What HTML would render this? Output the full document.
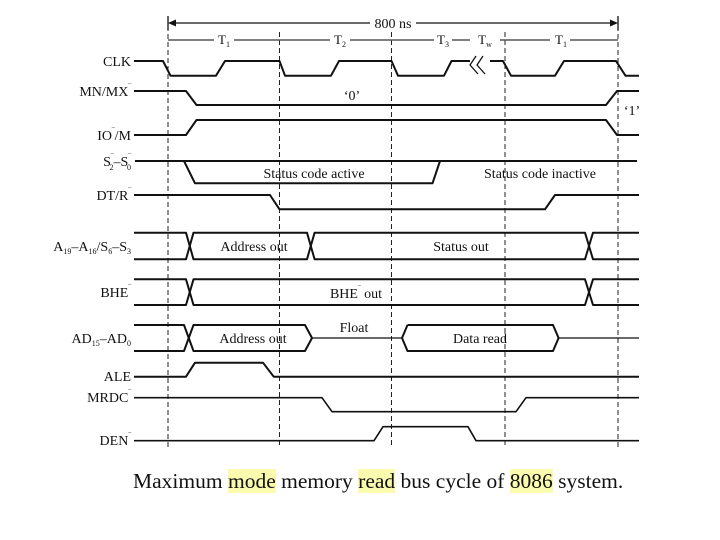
<!DOCTYPE html>
<html><head><meta charset="utf-8"><style>
html,body{margin:0;padding:0;background:#fff;}
svg{display:block}
text{font-family:"Liberation Serif",serif;fill:#111;}
#cap{position:absolute;left:133px;top:468px;font-family:"Liberation Serif",serif;font-size:21.5px;color:#111;white-space:nowrap;line-height:26px;}
#cap span{background:#fbfbb0;}
</style></head><body>
<svg width="720" height="540" viewBox="0 0 720 540" xmlns="http://www.w3.org/2000/svg">
<g stroke="#222" stroke-width="1" stroke-dasharray="5,3" fill="none">
<line x1="168" y1="18" x2="168" y2="447"/>
<line x1="279.5" y1="32" x2="279.5" y2="447"/>
<line x1="391.5" y1="32" x2="391.5" y2="447"/>
<line x1="505" y1="32" x2="505" y2="447"/>
<line x1="618" y1="18" x2="618" y2="447"/>
</g>
<g stroke="#111" stroke-width="1.3" fill="none">
<line x1="168" y1="16" x2="168" y2="30"/><line x1="618" y1="16" x2="618" y2="30"/>
<line x1="170" y1="23" x2="370" y2="23"/><line x1="416" y1="23" x2="616" y2="23"/>
</g>
<path d="M168 23 l8 -3.5 v7z M618 23 l-8 -3.5 v7z" fill="#111"/>
<text x="393" y="28" font-size="14" text-anchor="middle">800 ns</text>
<g stroke="#555" stroke-width="1.5">
<line x1="168" y1="40" x2="214" y2="40"/><line x1="234" y1="40" x2="330" y2="40"/><line x1="350" y1="40" x2="434" y2="40"/>
<line x1="452" y1="40" x2="470" y2="40"/><line x1="500" y1="40" x2="550" y2="40"/><line x1="570" y1="40" x2="618" y2="40"/>
</g>
<g font-size="13" text-anchor="middle">
<text x="224" y="44">T<tspan font-size="8" dy="3">1</tspan></text>
<text x="340" y="44">T<tspan font-size="8" dy="3">2</tspan></text>
<text x="443" y="44">T<tspan font-size="8" dy="3">3</tspan></text>
<text x="485" y="44">T<tspan font-size="8" dy="3">w</tspan></text>
<text x="561" y="44">T<tspan font-size="8" dy="3">1</tspan></text>
</g>
<g stroke="#111" stroke-width="2" fill="none" stroke-linejoin="round">
<polyline points="134,61 163,61 170.5,75.7 216,75.7 225,61 279.5,61 285,75.7 331,75.7 339,61 391.5,61 398,75.7 444,75.7 451.5,61 470,61"/>
<polyline points="490,61 503,61 511,75.7 555,75.7 564,61 616,61 625.5,75.7 639,75.7"/>
<polyline stroke-width="1.3" points="476,56 470,65 478,74"/><polyline stroke-width="1.3" points="483,56 477,65 485,74"/>
<polyline points="134,91 186,91 196.5,105 606,105 617,91 639,91"/>
<polyline points="134,135 186,135 196.5,120 606,120 617,135 639,135"/>
<line x1="135" y1="161" x2="637" y2="161"/>
<polyline points="184,161 195,183.3 432.5,183.3 440,161"/>
<polyline points="134,195 270,195 279.5,209.3 545,209.3 555,195 639,195"/>
<polyline points="134,232.7 186,232.7 193.5,259.3 307,259.3 314.6,232.7 585,232.7 593,259.3 639,259.3"/>
<polyline points="134,259.3 186,259.3 193.5,232.7 307,232.7 314.6,259.3 585,259.3 593,232.7 639,232.7"/>
<polyline points="134,279.3 186,279.3 193.5,305 585,305 593,279.3 639,279.3"/>
<polyline points="134,305 186,305 193.5,279.3 585,279.3 593,305 639,305"/>
<polyline points="134,325 184,325 193.5,351 305,351 312,338"/>
<polyline points="134,351 184,351 193.5,325 305,325 312,338"/>
<polyline stroke-width="1.3" points="312,338 402,338"/>
<polyline points="407.5,325 402,338 407.5,351 553,351 558.6,338 553,325 407.5,325"/>
<polyline stroke-width="1.3" points="558.6,338 639,338"/>
<polyline points="134,376.7 186,376.7 195,362.7 263,362.7 273.7,376.7 639,376.7"/>
<polyline stroke-width="1.6" points="134,397.7 322,397.7 332,411.7 516,411.7 526,397.7 639,397.7"/>
<polyline stroke-width="1.6" points="134,440.7 374,440.7 383,426.7 468,426.7 476,440.7 639,440.7"/>
</g>
<g font-size="14" text-anchor="end">
<text x="131" y="66">CLK</text>
<text x="131" y="96">MN/MX<tspan font-size="8" dy="-6">‾</tspan></text>
<text x="131" y="140">IO<tspan font-size="8" dy="-6">‾</tspan><tspan dy="6">/M</tspan></text>
<text x="131" y="166">S<tspan font-size="8" dy="-6">‾</tspan><tspan font-size="8" dx="-4" dy="10">2</tspan><tspan dy="-4">–S</tspan><tspan font-size="8" dy="-6">‾</tspan><tspan font-size="8" dx="-4" dy="10">0</tspan></text>
<text x="131" y="200">DT/R<tspan font-size="8" dy="-6">‾</tspan></text>
<text x="131" y="251">A<tspan font-size="8" dy="3">19</tspan><tspan dy="-3">–A</tspan><tspan font-size="8" dy="3">16</tspan><tspan dy="-3">/S</tspan><tspan font-size="8" dy="3">6</tspan><tspan dy="-3">–S</tspan><tspan font-size="8" dy="3">3</tspan></text>
<text x="131" y="297">BHE<tspan font-size="8" dy="-6">‾</tspan></text>
<text x="131" y="343">AD<tspan font-size="8" dy="3">15</tspan><tspan dy="-3">–AD</tspan><tspan font-size="8" dy="3">0</tspan></text>
<text x="131" y="381">ALE</text>
<text x="131" y="402">MRDC<tspan font-size="8" dy="-6">‾</tspan></text>
<text x="131" y="445">DEN<tspan font-size="8" dy="-6">‾</tspan></text>
</g>
<g font-size="14" text-anchor="middle">
<text x="352" y="100">‘0’</text>
<text x="632" y="115">‘1’</text>
<text x="314" y="178">Status code active</text>
<text x="540" y="178">Status code inactive</text>
<text x="254" y="251">Address out</text>
<text x="461" y="251">Status out</text>
<text x="356" y="298">BHE<tspan font-size="8" dy="-6">‾</tspan><tspan dy="6"> out</tspan></text>
<text x="354" y="332">Float</text>
<text x="253" y="343">Address out</text>
<text x="480" y="343">Data read</text>
</g>
</svg>
<div id="cap">Maximum <span>mode</span> memory <span>read</span> bus cycle of <span>8086</span> system.</div>
</body></html>
